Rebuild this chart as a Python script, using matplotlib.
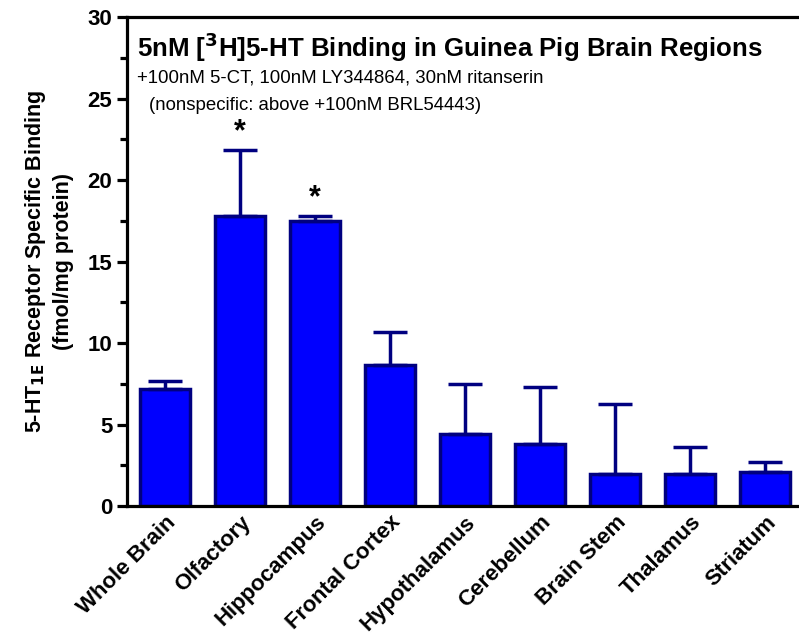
import matplotlib
matplotlib.use("Agg")
import matplotlib.pyplot as plt
from matplotlib.ticker import MultipleLocator

plt.rcParams['font.family'] = ['Liberation Sans', 'DejaVu Sans']

regions = ["Whole Brain", "Olfactory", "Hippocampus", "Frontal Cortex", "Hypothalamus",
           "Cerebellum", "Brain Stem", "Thalamus", "Striatum"]
binding = [7.2, 17.8, 17.5, 8.65, 4.45, 3.8, 1.95, 1.95, 2.1]
sem = [0.45, 4.05, 0.3, 2.05, 3.05, 3.5, 4.3, 1.65, 0.6]
significant = [False, True, True, False, False, False, False, False, False]

fig = plt.figure(figsize=(7.99, 6.39), dpi=100)
ax = fig.add_axes([0.159, 0.208, 0.841, 0.765])

x = list(range(len(regions)))
ax.bar(x, binding, width=0.66, color="#0000FF", edgecolor="#000080", linewidth=2.5,
       yerr=[[0] * len(sem), sem], error_kw=dict(ecolor="#000080", elinewidth=2.5,
                                                  capsize=12, capthick=2.5))

for i in x:
    if significant[i]:
        ax.text(i, binding[i] + sem[i] + 0.2, "*", ha="center", va="bottom",
                fontsize=22, fontweight="bold")

ax.set_xlim(-0.507, 8.45)
ax.set_ylim(0, 30)
ax.yaxis.set_major_locator(MultipleLocator(5))
ax.yaxis.set_minor_locator(MultipleLocator(2.5))
ax.spines['right'].set_visible(False)
for s in ['left', 'bottom', 'top']:
    ax.spines[s].set_linewidth(2.3)
ax.tick_params(axis='y', which='major', length=7, width=2.3, labelsize=16)
ax.tick_params(axis='y', which='minor', length=5, width=2.3)
ax.tick_params(axis='x', length=0, pad=4)
ax.set_xticks(x)
ax.set_xticklabels(regions, rotation=45, ha="right", rotation_mode="anchor",
                   fontsize=16, fontweight="bold")
for lab in ax.get_yticklabels():
    lab.set_fontweight("bold")

ax.set_ylabel("5-HT$_{\\mathbf{1E}}$ Receptor Specific Binding\n(fmol/mg protein)",
              fontsize=15.5, fontweight="bold", labelpad=10, linespacing=1.3)

ax.text(0.015, 0.972, "5nM [$^{\\mathbf{3}}$H]5-HT Binding in Guinea Pig Brain Regions",
        transform=ax.transAxes, fontsize=18.6, fontweight="bold", va="top")
ax.text(0.015, 0.893, "+100nM 5-CT, 100nM LY344864, 30nM ritanserin",
        transform=ax.transAxes, fontsize=13.4, va="top")
ax.text(0.033, 0.836, "(nonspecific: above +100nM BRL54443)",
        transform=ax.transAxes, fontsize=13.4, va="top")

fig.savefig("out.png", dpi=100)
